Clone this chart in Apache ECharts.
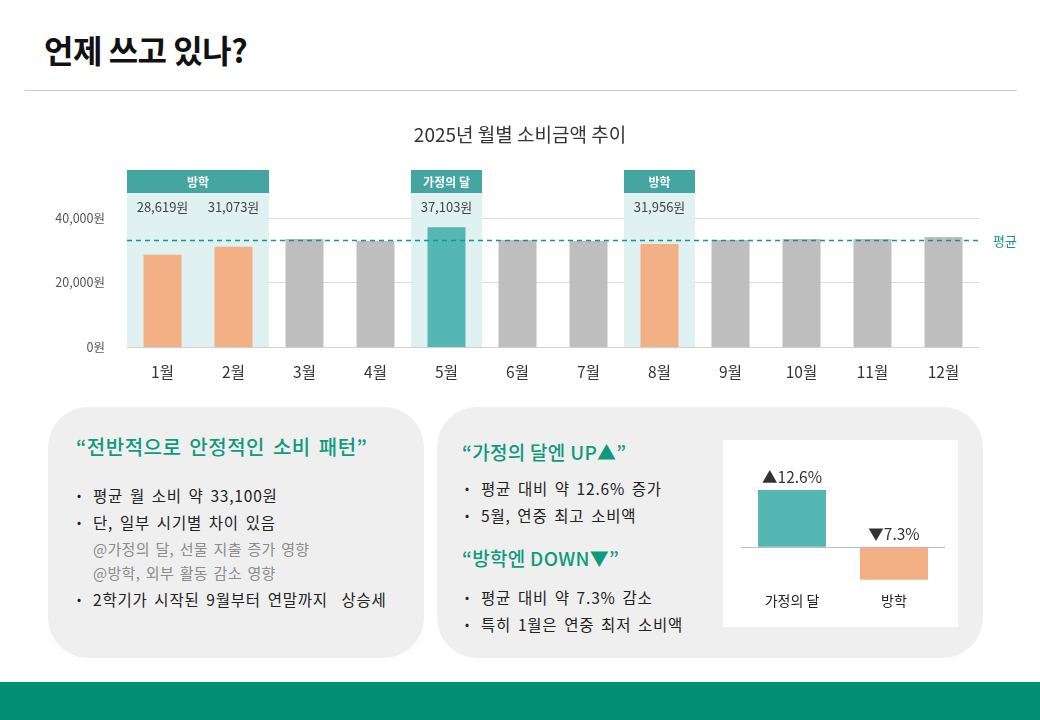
<!DOCTYPE html>
<html>
<head>
<meta charset="utf-8">
<script src="https://cdn.jsdelivr.net/npm/echarts/dist/echarts.min.js"></script>
<style>
  body { margin: 0; width: 1040px; height: 720px; position: relative; overflow: hidden; background: #fff;
         font-family: "Noto Sans CJK KR", "Noto Sans", sans-serif; color: #222; }
  .abs { position: absolute; white-space: nowrap; }
  .title { left: 44px; top: 26px; font-size: 32px; font-weight: 700; letter-spacing: -0.5px; color: #111; }
  .rule { left: 25px; top: 90px; width: 992px; height: 1px; background: #C8C8C8; }
  .panel { top: 407px; height: 251px; border-radius: 40px; background: #EFEFEF; }
  .head { font-size: 20px; line-height: 24px; color: #0F9A7C; font-weight: 500; letter-spacing: 0.5px; word-spacing: 3px; }
  .head2 { font-size: 19px; line-height: 24px; color: #0F9A7C; font-weight: 500; letter-spacing: 0.3px; }
  .line { font-size: 15.5px; line-height: 20px; color: #222; letter-spacing: 0.8px; word-spacing: 2.5px; }
  .sub { font-size: 15px; line-height: 20px; color: #8C8C8C; letter-spacing: 0.3px; word-spacing: 2px; }
  .dot { font-size: 12px; line-height: 20px; color: #222; }
  .footer { left: 0; top: 682px; width: 1040px; height: 38px; background: #008F72; }
</style>
</head>
<body>
<div class="abs title">언제 쓰고 있나?</div>
<div class="abs rule"></div>

<div id="main" class="abs" style="left:0;top:100px;width:1040px;height:300px;"></div>

<div class="abs panel" style="left:48px;width:376px;"></div>
<div class="abs panel" style="left:437px;width:546px;"></div>

<div class="abs head" style="left:76px;top:435px;">“전반적으로 안정적인 소비 패턴”</div>
<div class="abs dot" style="left:77px;top:485px;">•</div>
<div class="abs line" style="left:93px;top:485px;">평균 월 소비 약 33,100원</div>
<div class="abs dot" style="left:77px;top:512px;">•</div>
<div class="abs line" style="left:93px;top:512px;">단, 일부 시기별 차이 있음</div>
<div class="abs sub" style="left:93px;top:539px;">@가정의 달, 선물 지출 증가 영향</div>
<div class="abs sub" style="left:93px;top:563px;">@방학, 외부 활동 감소 영향</div>
<div class="abs dot" style="left:77px;top:589px;">•</div>
<div class="abs line" style="left:93px;top:589px;">2학기가 시작된 9월부터 연말까지 &nbsp;상승세</div>

<div class="abs head2" style="left:462px;top:440px;">“가정의 달엔 UP▲”</div>
<div class="abs dot" style="left:465px;top:478px;">•</div>
<div class="abs line" style="left:481px;top:478px;">평균 대비 약 12.6% 증가</div>
<div class="abs dot" style="left:465px;top:505px;">•</div>
<div class="abs line" style="left:481px;top:505px;">5월, 연중 최고 소비액</div>
<div class="abs head2" style="left:462px;top:546px;">“방학엔 DOWN▼”</div>
<div class="abs dot" style="left:465px;top:587px;">•</div>
<div class="abs line" style="left:481px;top:587px;">평균 대비 약 7.3% 감소</div>
<div class="abs dot" style="left:465px;top:614px;">•</div>
<div class="abs line" style="left:481px;top:614px;">특히 1월은 연중 최저 소비액</div>

<div id="gap" class="abs" style="left:723px;top:440px;width:235px;height:187px;background:#fff;"></div>

<div class="abs footer"></div>

<script>
// monthly spending (원)
const months = ['1월', '2월', '3월', '4월', '5월', '6월', '7월', '8월', '9월', '10월', '11월', '12월'];
const spending = [28619, 31073, 33500, 32900, 37103, 33200, 32900, 31956, 33200, 33500, 33500, 34100];

// highlighted periods (month index range)
const periodNames = ['방학', '가정의 달', '방학'];
const periodStart = [0, 4, 7];
const periodEnd = [1, 4, 7];

// gap vs average (%)
const gapCategories = ['가정의 달', '방학'];
const gapValues = [12.6, -7.3];

const FONT = '"Noto Sans CJK KR", sans-serif';
const colorFor = {'방학': '#F2B084', '가정의 달': '#55B7B4'};

function periodOf(i) {
    for (let k = 0; k < periodNames.length; k++) {
        if (i >= periodStart[k] && i <= periodEnd[k]) return periodNames[k];
    }
    return null;
}

let mainChart = echarts.init(document.getElementById('main'));
mainChart.setOption({
    animation: false,
    textStyle: {fontFamily: FONT},
    title: {
        text: '2025년 월별 소비금액 추이',
        left: 'center',
        top: 20,
        textStyle: {fontSize: 19, fontWeight: 'normal', color: '#333', fontFamily: FONT}
    },
    grid: {left: 127, right: 61, top: 118, bottom: 53},
    xAxis: {
        type: 'category',
        data: months,
        axisTick: {show: false},
        axisLine: {lineStyle: {color: '#D0D0D0'}},
        axisLabel: {fontSize: 15.5, color: '#333', margin: 17}
    },
    yAxis: {
        type: 'value',
        min: 0,
        max: 40000,
        interval: 20000,
        axisLabel: {
            fontSize: 12.5,
            color: '#555',
            margin: 22,
            formatter: v => v.toLocaleString('en-US') + '원'
        },
        splitLine: {lineStyle: {color: '#D9D9D9'}}
    },
    series: [{
        type: 'custom',
        z: 1,
        clip: false,
        silent: true,
        data: periodStart.map((s, k) => [s, periodEnd[k], 0]),
        encode: {x: [0, 1], y: 2},
        renderItem: function (params, api) {
            let s = api.value(0), e = api.value(1);
            let bw = api.size([1, 0])[0];
            let p0 = api.coord([s, 0]), p1 = api.coord([e, 0]);
            let x0 = p0[0] - bw / 2, x1 = p1[0] + bw / 2;
            let top = params.coordSys.y - 48;
            let children = [
                {type: 'rect', shape: {x: x0, y: top, width: x1 - x0, height: p0[1] - top}, style: {fill: '#DFF1F0'}},
                {type: 'rect', shape: {x: x0, y: top, width: x1 - x0, height: 23}, style: {fill: '#45A5A0'}},
                {type: 'text', style: {
                    x: (x0 + x1) / 2, y: top + 12, text: periodNames[params.dataIndex],
                    fill: '#fff', font: 'bold 12px ' + FONT, align: 'center', verticalAlign: 'middle'
                }}
            ];
            for (let i = s; i <= e; i++) {
                children.push({type: 'text', style: {
                    x: api.coord([i, 0])[0], y: top + 37,
                    text: spending[i].toLocaleString('en-US') + '원',
                    fill: '#444', font: '13px ' + FONT, align: 'center', verticalAlign: 'middle'
                }});
            }
            return {type: 'group', children: children};
        }
    }, {
        type: 'bar',
        z: 2,
        barWidth: 38,
        data: spending.map((v, i) => ({
            value: v,
            itemStyle: {color: colorFor[periodOf(i)] || '#BEBEBE'}
        })),
        markLine: {
            silent: true,
            symbol: 'none',
            data: [{type: 'average'}],
            lineStyle: {type: [5, 4], color: '#17968C', width: 1.3},
            label: {position: 'end', formatter: '평균', color: '#17968C', fontSize: 13, distance: 14}
        }
    }]
});

let gapChart = echarts.init(document.getElementById('gap'));
gapChart.setOption({
    animation: false,
    textStyle: {fontFamily: FONT},
    grid: {left: 18, right: 13, top: 16.5, bottom: 35},
    xAxis: {
        type: 'category',
        data: gapCategories,
        axisLine: {show: false, onZero: false},
        axisTick: {show: false},
        axisLabel: {fontSize: 14, color: '#222', margin: 2}
    },
    yAxis: {type: 'value', min: -10, max: 20, show: false},
    series: [{
        type: 'bar',
        barWidth: 68,
        data: gapValues.map((v, i) => ({
            value: v,
            itemStyle: {color: colorFor[gapCategories[i]]}
        })),
        label: {
            show: true,
            position: 'top',
            distance: 5,
            fontSize: 15.5,
            color: '#333',
            formatter: p => (p.value > 0 ? '▲' : '▼') + Math.abs(p.value) + '%'
        },
        markLine: {
            silent: true,
            symbol: 'none',
            data: [{yAxis: 0}],
            lineStyle: {type: 'solid', color: '#BDBDBD', width: 1},
            label: {show: false}
        }
    }]
});
</script>
</body>
</html>
